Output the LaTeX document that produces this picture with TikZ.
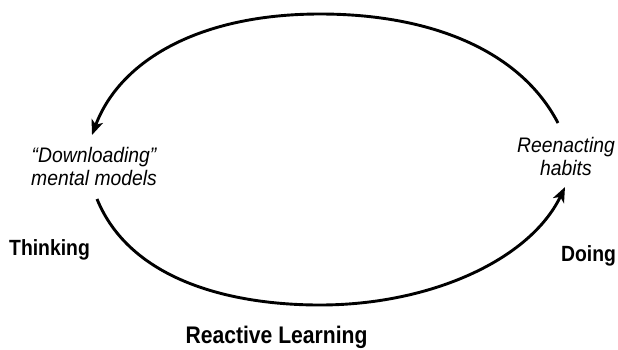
\documentclass[tikz,border=0pt]{standalone}
\usepackage{fontspec}
\setmainfont{Liberation Sans}
\newfontfamily\stepitfont{Liberation Sans}[FakeStretch=0.92]
\newfontfamily\stepbffont{Liberation Sans}[FakeStretch=0.88]
\usetikzlibrary{arrows.meta,positioning}

\begin{document}
\begin{tikzpicture}[
  x=1pt, y=-1pt,
  phasetext/.style={align=center,inner sep=0pt,
                    font=\stepitfont\itshape\fontsize{21}{23}\selectfont},
  modelabel/.style={anchor=base,inner sep=0pt,
                    font=\stepbffont\bfseries\fontsize{22}{26}\selectfont},
  looparc/.style={line width=2.9pt,-{Stealth[length=15pt,width=12pt,inset=4pt]}},
]
  \useasboundingbox (0,0) rectangle (618,349);

  % phases of the loop
  \node[phasetext] (down) at (94,166) {“Downloading”\\mental models};
  \node[phasetext] (reen) at (566,156) {Reenacting\\habits};

  % side labels
  \node[modelabel] (think) at (49.5,255) {Thinking};
  \node[modelabel] (doing) at (588.5,261) {Doing};
  \node[modelabel,font=\stepbffont\bfseries\fontsize{24}{28}\selectfont]
    (react) at (276.5,343) {Reactive Learning};

  % arc ends
  \coordinate (reentop) at (558,123);
  \coordinate (downtop) at (92,135);
  \coordinate (downbot) at (97,199);
  \coordinate (reenbot) at (565,187);

  % upper arc: doing -> thinking
  \draw[looparc] (reentop) .. controls (520,50) and (430,14) .. (320,14)
    .. controls (200,14) and (120,60) .. (downtop);

  % lower arc: thinking -> doing
  \draw[looparc] (downbot) .. controls (130,280) and (230,305) .. (320,305)
    .. controls (430,305) and (530,260) .. (reenbot);
\end{tikzpicture}
\end{document}
